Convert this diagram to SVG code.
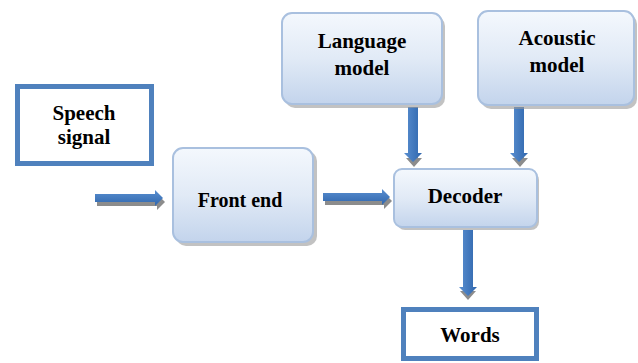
<svg xmlns="http://www.w3.org/2000/svg" width="638" height="363" viewBox="0 0 638 363">
<defs>
<linearGradient id="boxg" x1="0" y1="0" x2="0" y2="1">
<stop offset="0" stop-color="#f4f8fd"/>
<stop offset="0.5" stop-color="#e1eaf6"/>
<stop offset="1" stop-color="#c3d4ec"/>
</linearGradient>
<linearGradient id="arrH" x1="0" y1="0" x2="0" y2="1">
<stop offset="0" stop-color="#5a8fd0"/>
<stop offset="1" stop-color="#2f66ad"/>
</linearGradient>
<linearGradient id="arrV" x1="0" y1="0" x2="1" y2="0">
<stop offset="0" stop-color="#5a8fd0"/>
<stop offset="1" stop-color="#2f66ad"/>
</linearGradient>
</defs>
<style>
.box{fill:url(#boxg);stroke:#a9c0df;stroke-width:2}
.shadow{fill:#9a9a9a;opacity:0.6}
.plain{fill:#ffffff;stroke:#4f81bd;stroke-width:5}
.t{font-family:"Liberation Serif","Times New Roman",serif;font-weight:bold;font-size:21px;fill:#000;text-anchor:middle}
.ash{fill:#8c8c8c}
.ah{fill:url(#arrH)}
.av{fill:url(#arrV)}
</style>
<g id="connectors">
<!-- speech -> front end -->
<path class="ash" d="M97,197 H157 V194 L165,202 L157,210 V206 H97 Z"/>
<path class="ah" d="M95,194 H155 V190 L163,198 L155,206 V202 H95 Z"/>
<!-- front end -> decoder -->
<path class="ash" d="M325,196 H384 V193 L392,201 L384,209 V205 H325 Z"/>
<path class="ah" d="M323,193 H382 V189 L390,197 L382,205 V201 H323 Z"/>
<!-- language -> decoder -->
<path class="ash" d="M410,112 V158 H406 L414,167 L422,158 H418 V112 Z"/>
<path class="av" d="M408,107 V153 H404 L413,162 L422,153 H418 V107 Z"/>
<!-- acoustic -> decoder -->
<path class="ash" d="M516,112 V158 H512 L520,167 L528,158 H524 V112 Z"/>
<path class="av" d="M514,107 V153 H510 L519,162 L528,153 H524 V107 Z"/>
<!-- decoder -> words -->
<path class="ash" d="M464,235 V291 H460 L468,300 L476,291 H472 V235 Z"/>
<path class="av" d="M463,230 V287 H459 L468,296 L477,287 H473 V230 Z"/>
</g>
<g id="speech-signal">
<rect class="plain" x="17.5" y="86.5" width="134" height="77"/>
<text class="t" x="84" y="120">Speech</text>
<text class="t" x="84" y="144">signal</text>
</g>
<g id="front-end">
<rect class="shadow" x="176" y="151" width="141" height="95" rx="10"/>
<rect class="box" x="173" y="148" width="140" height="94" rx="10"/>
<text class="t" x="240" y="207" style="font-size:20px">Front end</text>
</g>
<g id="language-model">
<rect class="shadow" x="285" y="16" width="160" height="92" rx="10"/>
<rect class="box" x="282" y="13" width="160" height="91" rx="10"/>
<text class="t" x="362" y="48">Language</text>
<text class="t" x="362" y="75">model</text>
</g>
<g id="acoustic-model">
<rect class="shadow" x="481" y="14" width="156" height="95" rx="10"/>
<rect class="box" x="478" y="11" width="156" height="94" rx="10"/>
<text class="t" x="557" y="45">Acoustic</text>
<text class="t" x="557" y="72">model</text>
</g>
<g id="decoder">
<rect class="shadow" x="397" y="172" width="142" height="58" rx="8"/>
<rect class="box" x="394" y="169" width="143" height="58" rx="8"/>
<text class="t" x="465" y="203">Decoder</text>
</g>
<g id="words">
<rect class="plain" x="403.5" y="309.5" width="133" height="49"/>
<text class="t" x="470" y="342">Words</text>
</g>
</svg>
